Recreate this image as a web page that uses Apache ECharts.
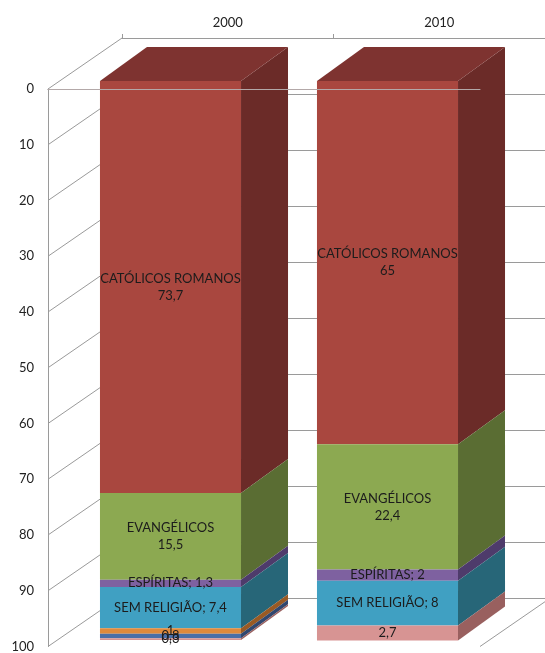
<!DOCTYPE html>
<html>
<head>
<meta charset="utf-8">
<script src="https://cdn.jsdelivr.net/npm/echarts@6/dist/echarts.min.js"></script>
<style>html,body{margin:0;padding:0;background:#fff}#c{width:545px;height:653px}</style>
</head>
<body>
<div id="c"></div>
<script>
// ---- data ----
const categories = ['2000', '2010'];
const catolicos = [73.7, 65];
const evangelicos = [15.5, 22.4];
const espiritas = [1.3, 2];
const semReligiao = [7.4, 8];
const outras1 = [1, 0];
const outras2 = [0.8, 0];
const outras3 = [0.3, 2.7];
const seriesNames = ['CATÓLICOS ROMANOS', 'EVANGÉLICOS', 'ESPÍRITAS', 'SEM RELIGIÃO', 'Outras 1', 'Outras 2', 'Outras 3'];
const yTicks = [0, 10, 20, 30, 40, 50, 60, 70, 80, 90, 100];

// ---- styles ----
const seriesValues = [catolicos, evangelicos, espiritas, semReligiao, outras1, outras2, outras3];
const labelSep = ['\n', '\n', '; ', '; ', null, null, null];
const frontColors = ['#A9473F', '#8CA951', '#7E61A0', '#40A0C2', '#E08A3C', '#4A6FA8', '#D79493'];
const sideColors  = ['#6B2B28', '#5A6D33', '#4E3B6B', '#276678', '#995A24', '#30476F', '#99605F'];
const topColors   = ['#7E3330', '#6F8640', '#604A85', '#307F96', '#B26A2C', '#3A5688', '#B27776'];

// layout
const WALL = {left: 48, top: 89, width: 432, height: 560};
const BACK = {left: 122, top: 38, width: 432, height: 560};
const BARS = {left: 62, top: 81, width: 434, height: 559};
const WDX = BACK.left - WALL.left, WDY = BACK.top - WALL.top;
const BDX = 47, BDY = -34, BAR_RATIO = 0.65;
const FONT = 'Lato, "Open Sans", sans-serif';

function fmt(v) { return String(v).replace('.', ','); }

// stacking
const cum = categories.map(() => 0);
const barSeries = seriesValues.map((vals, si) => {
  const data = vals.map((v, ci) => {
    const s = cum[ci];
    cum[ci] += v;
    return [ci, s, s + v, v];
  });
  return {
    type: 'custom', name: seriesNames[si], xAxisIndex: 2, yAxisIndex: 2, z: 2,
    data: data,
    renderItem: function (params, api) {
      const cat = api.value(0), s = api.value(1), e = api.value(2), v = api.value(3);
      if (!(v > 0)) return null;
      const p0 = api.coord([cat, s]), p1 = api.coord([cat, e]);
      const bw = api.size([1, 0])[0] * BAR_RATIO;
      const xL = p0[0] - bw / 2, xR = p0[0] + bw / 2, yT = p0[1], yB = p1[1];
      const children = [
        {type: 'rect', shape: {x: xL, y: yT, width: bw, height: yB - yT}, style: {fill: frontColors[si]}},
        {type: 'polygon', shape: {points: [[xR, yT], [xR + BDX, yT + BDY], [xR + BDX, yB + BDY], [xR, yB]]}, style: {fill: sideColors[si]}}
      ];
      if (s === 0) {
        children.push({type: 'polygon', shape: {points: [[xL, yT], [xR, yT], [xR + BDX, yT + BDY], [xL + BDX, yT + BDY]]}, style: {fill: topColors[si]}});
      }
      const txt = labelSep[si] === null ? fmt(v) : seriesNames[si] + labelSep[si] + fmt(v);
      children.push({
        type: 'text', z2: 100,
        style: {text: txt, x: p0[0], y: (yT + yB) / 2, align: 'center', verticalAlign: 'middle',
          fill: '#1c1c1c', fontSize: 13, fontFamily: FONT, lineHeight: 17}
      });
      return {type: 'group', children: children};
    }
  };
});

const wallSeries = {
  type: 'custom', xAxisIndex: 0, yAxisIndex: 0, z: 1, silent: true,
  data: yTicks.map(t => [0, t]),
  renderItem: function (params, api) {
    const y = api.coord([0, api.value(1)])[1];
    const cs = params.coordSys;
    const ls = {stroke: '#9a9a9a', lineWidth: 1};
    const children = [{type: 'line', shape: {x1: cs.x, y1: y, x2: cs.x + WDX, y2: y + WDY}, style: ls}];
    if (api.value(1) === yTicks[yTicks.length - 1]) {
      children.push({type: 'line', shape: {x1: cs.x + cs.width, y1: y, x2: cs.x + cs.width + WDX, y2: y + WDY}, style: ls});
    }
    return {type: 'group', children: children};
  }
};

const gray = '#9a9a9a';
const option = {
  backgroundColor: '#fff',
  animation: false,
  grid: [
    Object.assign({containLabel: false}, WALL),
    Object.assign({containLabel: false}, BACK),
    Object.assign({containLabel: false}, BARS)
  ],
  xAxis: [
    {gridIndex: 0, type: 'category', data: categories, position: 'bottom',
      axisLine: {show: true, lineStyle: {color: gray}}, axisTick: {show: false}, axisLabel: {show: false}, splitLine: {show: false}},
    {gridIndex: 1, type: 'category', data: categories, position: 'top',
      axisLine: {show: true, lineStyle: {color: gray}}, axisTick: {show: true, length: 4, lineStyle: {color: gray}},
      axisLabel: {color: '#222', fontSize: 13, fontFamily: FONT, margin: 9}, splitLine: {show: false}},
    {gridIndex: 2, type: 'category', data: categories, show: false},
    {gridIndex: 0, type: 'category', data: categories, position: 'top', z: 10,
      axisLine: {show: true, lineStyle: {color: '#b3a8a8'}}, axisTick: {show: false}, axisLabel: {show: false}, splitLine: {show: false}}
  ],
  yAxis: [
    {gridIndex: 0, type: 'value', inverse: true, min: 0, max: 100, interval: 10,
      axisLine: {show: true, lineStyle: {color: gray}}, axisTick: {show: false},
      axisLabel: {color: '#222', fontSize: 13, fontFamily: FONT, margin: 14}, splitLine: {show: false}},
    {gridIndex: 1, type: 'value', inverse: true, min: 0, max: 100, interval: 10,
      axisLine: {show: false}, axisTick: {show: false},
      axisLabel: {show: false}, splitLine: {show: true, lineStyle: {color: gray}}},
    {gridIndex: 2, type: 'value', inverse: true, min: 0, max: 100, show: false}
  ],
  series: [wallSeries].concat(barSeries)
};

const chart = echarts.init(document.getElementById('c'), null, {renderer: 'canvas'});
chart.setOption(option);
</script>
</body>
</html>
